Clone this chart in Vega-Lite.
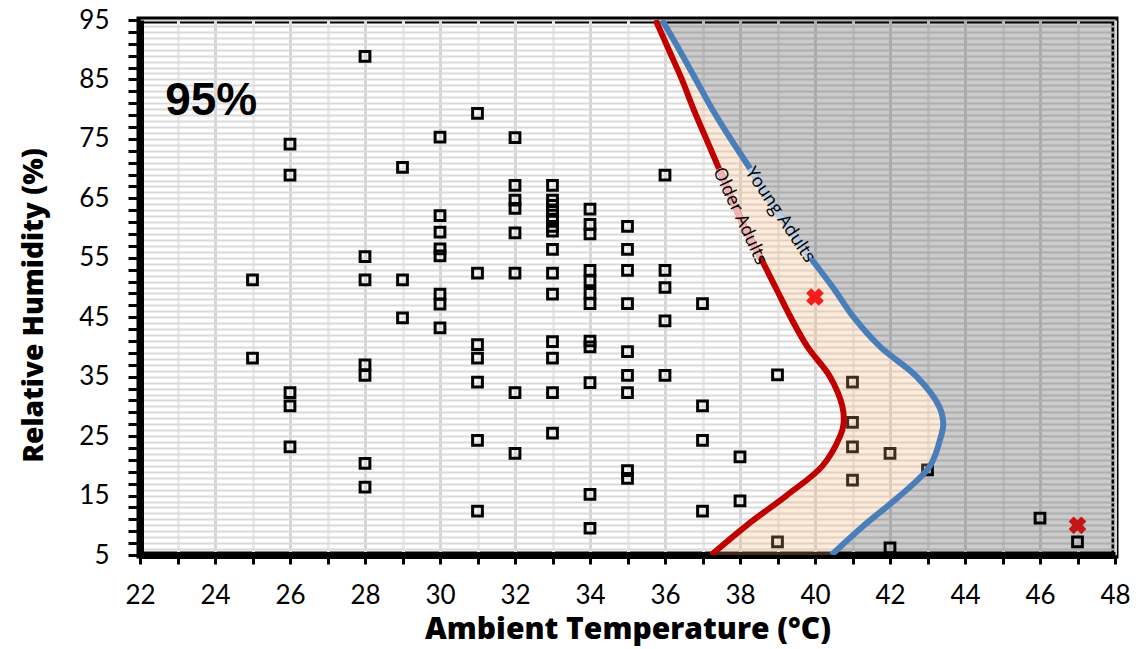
{
  "$schema": "https://vega.github.io/schema/vega-lite/v6.json",
  "width": 975,
  "height": 535,
  "autosize": {"type": "none"},
  "padding": {"left": 140, "top": 20, "right": 26, "bottom": 94},
  "background": "white",
  "config": {
    "view": {"stroke": "black", "strokeWidth": 7},
    "axis": {
      "domainColor": "black",
      "domainWidth": 7,
      "tickColor": "black",
      "tickWidth": 3,
      "labelFont": "Lato",
      "labelColor": "black",
      "labelFontSize": 26,
      "labelOverlap": false,
      "labelFlush": false,
      "titleFont": "Open Sans",
      "titleFontWeight": 800,
      "titleFontSize": 30,
      "titleColor": "black"
    }
  },
  "datasets": {
    "obs": [
      {"T": 25, "RH": 51.3}, {"T": 25, "RH": 38.1},
      {"T": 26, "RH": 74.1}, {"T": 26, "RH": 68.9}, {"T": 26, "RH": 32.3}, {"T": 26, "RH": 30.1}, {"T": 26, "RH": 23.2},
      {"T": 28, "RH": 88.9}, {"T": 28, "RH": 55.2}, {"T": 28, "RH": 51.3}, {"T": 28, "RH": 37.0}, {"T": 28, "RH": 35.2}, {"T": 28, "RH": 20.4}, {"T": 28, "RH": 16.4},
      {"T": 29, "RH": 70.2}, {"T": 29, "RH": 51.3}, {"T": 29, "RH": 44.9},
      {"T": 30, "RH": 75.3}, {"T": 30, "RH": 62.1}, {"T": 30, "RH": 59.3}, {"T": 30, "RH": 56.5}, {"T": 30, "RH": 55.3}, {"T": 30, "RH": 48.9}, {"T": 30, "RH": 47.2}, {"T": 30, "RH": 43.2},
      {"T": 31, "RH": 79.3}, {"T": 31, "RH": 52.4}, {"T": 31, "RH": 40.4}, {"T": 31, "RH": 38.1}, {"T": 31, "RH": 34.1}, {"T": 31, "RH": 24.3}, {"T": 31, "RH": 12.4},
      {"T": 32, "RH": 75.2}, {"T": 32, "RH": 67.2}, {"T": 32, "RH": 64.7}, {"T": 32, "RH": 63.3}, {"T": 32, "RH": 59.2}, {"T": 32, "RH": 52.4}, {"T": 32, "RH": 32.3}, {"T": 32, "RH": 22.1},
      {"T": 33, "RH": 67.2}, {"T": 33, "RH": 64.7}, {"T": 33, "RH": 63.8}, {"T": 33, "RH": 62.8}, {"T": 33, "RH": 61.5}, {"T": 33, "RH": 60.3}, {"T": 33, "RH": 59.5}, {"T": 33, "RH": 56.4}, {"T": 33, "RH": 52.4}, {"T": 33, "RH": 48.9}, {"T": 33, "RH": 40.9}, {"T": 33, "RH": 38.1}, {"T": 33, "RH": 32.3}, {"T": 33, "RH": 25.5},
      {"T": 34, "RH": 63.2}, {"T": 34, "RH": 60.6}, {"T": 34, "RH": 59.0}, {"T": 34, "RH": 52.9}, {"T": 34, "RH": 51.1}, {"T": 34, "RH": 49.0}, {"T": 34, "RH": 47.3}, {"T": 34, "RH": 41.0}, {"T": 34, "RH": 40.0}, {"T": 34, "RH": 34.0}, {"T": 34, "RH": 15.2}, {"T": 34, "RH": 9.5},
      {"T": 35, "RH": 60.3}, {"T": 35, "RH": 56.4}, {"T": 35, "RH": 52.9}, {"T": 35, "RH": 47.3}, {"T": 35, "RH": 39.2}, {"T": 35, "RH": 35.2}, {"T": 35, "RH": 32.3}, {"T": 35, "RH": 19.2}, {"T": 35, "RH": 17.9},
      {"T": 36, "RH": 68.9}, {"T": 36, "RH": 52.9}, {"T": 36, "RH": 50.0}, {"T": 36, "RH": 44.4}, {"T": 36, "RH": 35.2},
      {"T": 37, "RH": 47.3}, {"T": 37, "RH": 30.1}, {"T": 37, "RH": 24.3}, {"T": 37, "RH": 12.4},
      {"T": 38, "RH": 21.5}, {"T": 38, "RH": 14.1},
      {"T": 39, "RH": 35.3}, {"T": 39, "RH": 7.2},
      {"T": 41, "RH": 34.1}, {"T": 41, "RH": 27.3}, {"T": 41, "RH": 23.2}, {"T": 41, "RH": 17.6},
      {"T": 42, "RH": 22.1}, {"T": 42, "RH": 6.2},
      {"T": 43, "RH": 19.3},
      {"T": 46, "RH": 11.2},
      {"T": 47, "RH": 7.2}
    ],
    "curves": [
      {"RH": 95, "older": 35.75, "young": 35.92},
      {"RH": 90, "older": 36.1, "young": 36.38},
      {"RH": 85, "older": 36.45, "young": 36.82},
      {"RH": 80, "older": 36.76, "young": 37.26},
      {"RH": 75, "older": 37.1, "young": 37.75},
      {"RH": 70, "older": 37.44, "young": 38.27},
      {"RH": 65, "older": 37.78, "young": 38.76},
      {"RH": 60, "older": 38.13, "young": 39.3},
      {"RH": 55, "older": 38.55, "young": 39.88},
      {"RH": 50, "older": 38.95, "young": 40.48},
      {"RH": 45, "older": 39.35, "young": 41.03},
      {"RH": 40, "older": 39.8, "young": 41.74},
      {"RH": 35, "older": 40.4, "young": 42.71},
      {"RH": 30, "older": 40.73, "young": 43.31},
      {"RH": 27, "older": 40.76, "young": 43.42},
      {"RH": 25, "older": 40.67, "young": 43.36},
      {"RH": 20, "older": 40.2, "young": 43.07},
      {"RH": 15, "older": 39.24, "young": 42.27},
      {"RH": 10, "older": 38.18, "young": 41.31},
      {"RH": 5, "older": 37.23, "young": 40.44}
    ],
    "cases": [
      {"T": 40, "RH": 48.4},
      {"T": 47, "RH": 10.0}
    ]
  },
  "layer": [
    {
      "data": {"name": "obs"},
      "mark": {"type": "point", "shape": "square", "filled": false, "stroke": "black", "strokeWidth": 3, "size": 95, "opacity": 1},
      "encoding": {
        "x": {
          "field": "T", "type": "quantitative",
          "scale": {"domain": [22, 48], "nice": false, "zero": false},
          "axis": {
            "title": "Ambient Temperature (°C)",
            "values": [22, 23, 24, 25, 26, 27, 28, 29, 30, 31, 32, 33, 34, 35, 36, 37, 38, 39, 40, 41, 42, 43, 44, 45, 46, 47, 48],
            "tickCount": 60,
            "format": "d",
            "labelExpr": "datum.value % 2 == 0 ? datum.label : ''",
            "grid": true,
            "gridColor": {"condition": {"test": "datum.value % 2 == 0", "value": "#d6d6d6"}, "value": "#ebebeb"},
            "gridWidth": 3,
            "tickSize": 9,
            "labelPadding": 18,
            "titlePadding": 6
          }
        },
        "y": {
          "field": "RH", "type": "quantitative",
          "scale": {"domain": [5, 95], "nice": false, "zero": false},
          "axis": {
            "title": "Relative Humidity (%)",
            "values": [5, 6, 7, 8, 9, 10, 11, 12, 13, 14, 15, 16, 17, 18, 19, 20, 21, 22, 23, 24, 25, 26, 27, 28, 29, 30, 31, 32, 33, 34, 35, 36, 37, 38, 39, 40, 41, 42, 43, 44, 45, 46, 47, 48, 49, 50, 51, 52, 53, 54, 55, 56, 57, 58, 59, 60, 61, 62, 63, 64, 65, 66, 67, 68, 69, 70, 71, 72, 73, 74, 75, 76, 77, 78, 79, 80, 81, 82, 83, 84, 85, 86, 87, 88, 89, 90, 91, 92, 93, 94, 95],
            "tickCount": 200,
            "format": "d",
            "labelExpr": "(datum.value - 5) % 10 == 0 ? datum.label : ''",
            "tickOpacity": {"condition": {"test": "datum.value % 2 == 1", "value": 1}, "value": 0},
            "grid": true,
            "gridColor": "#dadada",
            "gridWidth": 2,
            "tickSize": 12,
            "labelPadding": 19,
            "titleFontSize": 28,
            "titlePadding": 30,
            "titleY": 285
          }
        }
      }
    },
    {
      "data": {"name": "curves"},
      "mark": {"type": "area", "orient": "horizontal", "interpolate": "catmull-rom", "color": "#f7b36e", "opacity": 0.25, "clip": true},
      "encoding": {
        "y": {"field": "RH", "type": "quantitative"},
        "x": {"field": "older", "type": "quantitative"},
        "x2": {"field": "young"}
      }
    },
    {
      "data": {"name": "cases"},
      "mark": {"type": "point", "shape": "cross", "angle": 45, "filled": true, "color": "#f51c1c", "size": 320, "opacity": 1},
      "encoding": {
        "x": {"field": "T", "type": "quantitative"},
        "y": {"field": "RH", "type": "quantitative"}
      }
    },
    {
      "data": {"name": "curves"},
      "mark": {"type": "area", "orient": "horizontal", "interpolate": "catmull-rom", "color": "black", "opacity": 0.2, "clip": true},
      "encoding": {
        "y": {"field": "RH", "type": "quantitative"},
        "x": {"field": "young", "type": "quantitative"},
        "x2": {"datum": 48}
      }
    },
    {
      "data": {"name": "curves"},
      "mark": {"type": "line", "interpolate": "catmull-rom", "color": "#c00000", "strokeWidth": 6, "clip": true},
      "encoding": {
        "y": {"field": "RH", "type": "quantitative"},
        "x": {"field": "older", "type": "quantitative"},
        "order": {"field": "RH", "type": "quantitative"}
      }
    },
    {
      "data": {"name": "curves"},
      "mark": {"type": "line", "interpolate": "catmull-rom", "color": "#4a7ebb", "strokeWidth": 6, "clip": true},
      "encoding": {
        "y": {"field": "RH", "type": "quantitative"},
        "x": {"field": "young", "type": "quantitative"},
        "order": {"field": "RH", "type": "quantitative"}
      }
    },
    {
      "data": {"name": "curves"},
      "transform": [{"filter": "datum.RH >= 55 && datum.RH <= 70"}],
      "mark": {"type": "line", "interpolate": "catmull-rom", "color": "#efb3b3", "strokeWidth": 6},
      "encoding": {
        "y": {"field": "RH", "type": "quantitative"},
        "x": {"field": "older", "type": "quantitative"},
        "order": {"field": "RH", "type": "quantitative"}
      }
    },
    {
      "data": {"name": "curves"},
      "transform": [{"filter": "datum.RH >= 55 && datum.RH <= 70"}],
      "mark": {"type": "line", "interpolate": "catmull-rom", "color": "#bccde3", "strokeWidth": 6},
      "encoding": {
        "y": {"field": "RH", "type": "quantitative"},
        "x": {"field": "young", "type": "quantitative"},
        "order": {"field": "RH", "type": "quantitative"}
      }
    },
    {
      "data": {"values": [{"label": "Older Adults", "T": 37.99, "RH": 62.0}]},
      "mark": {"type": "text", "angle": 65, "font": "Open Sans", "fontSize": 18, "color": "black", "align": "center", "baseline": "middle"},
      "encoding": {
        "x": {"field": "T", "type": "quantitative"},
        "y": {"field": "RH", "type": "quantitative"},
        "text": {"field": "label"}
      }
    },
    {
      "data": {"values": [{"label": "Young  Adults", "T": 39.06, "RH": 62.2}]},
      "mark": {"type": "text", "angle": 56, "font": "Open Sans", "fontSize": 18, "color": "black", "align": "center", "baseline": "middle"},
      "encoding": {
        "x": {"field": "T", "type": "quantitative"},
        "y": {"field": "RH", "type": "quantitative"},
        "text": {"field": "label"}
      }
    },
    {
      "data": {"values": [{"label": "95%", "T": 22.67, "RH": 79.0}]},
      "mark": {"type": "text", "font": "Liberation Sans", "fontWeight": "bold", "fontSize": 46, "color": "black", "align": "left", "baseline": "alphabetic"},
      "encoding": {
        "x": {"field": "T", "type": "quantitative"},
        "y": {"field": "RH", "type": "quantitative"},
        "text": {"field": "label"}
      }
    }
  ]
}
